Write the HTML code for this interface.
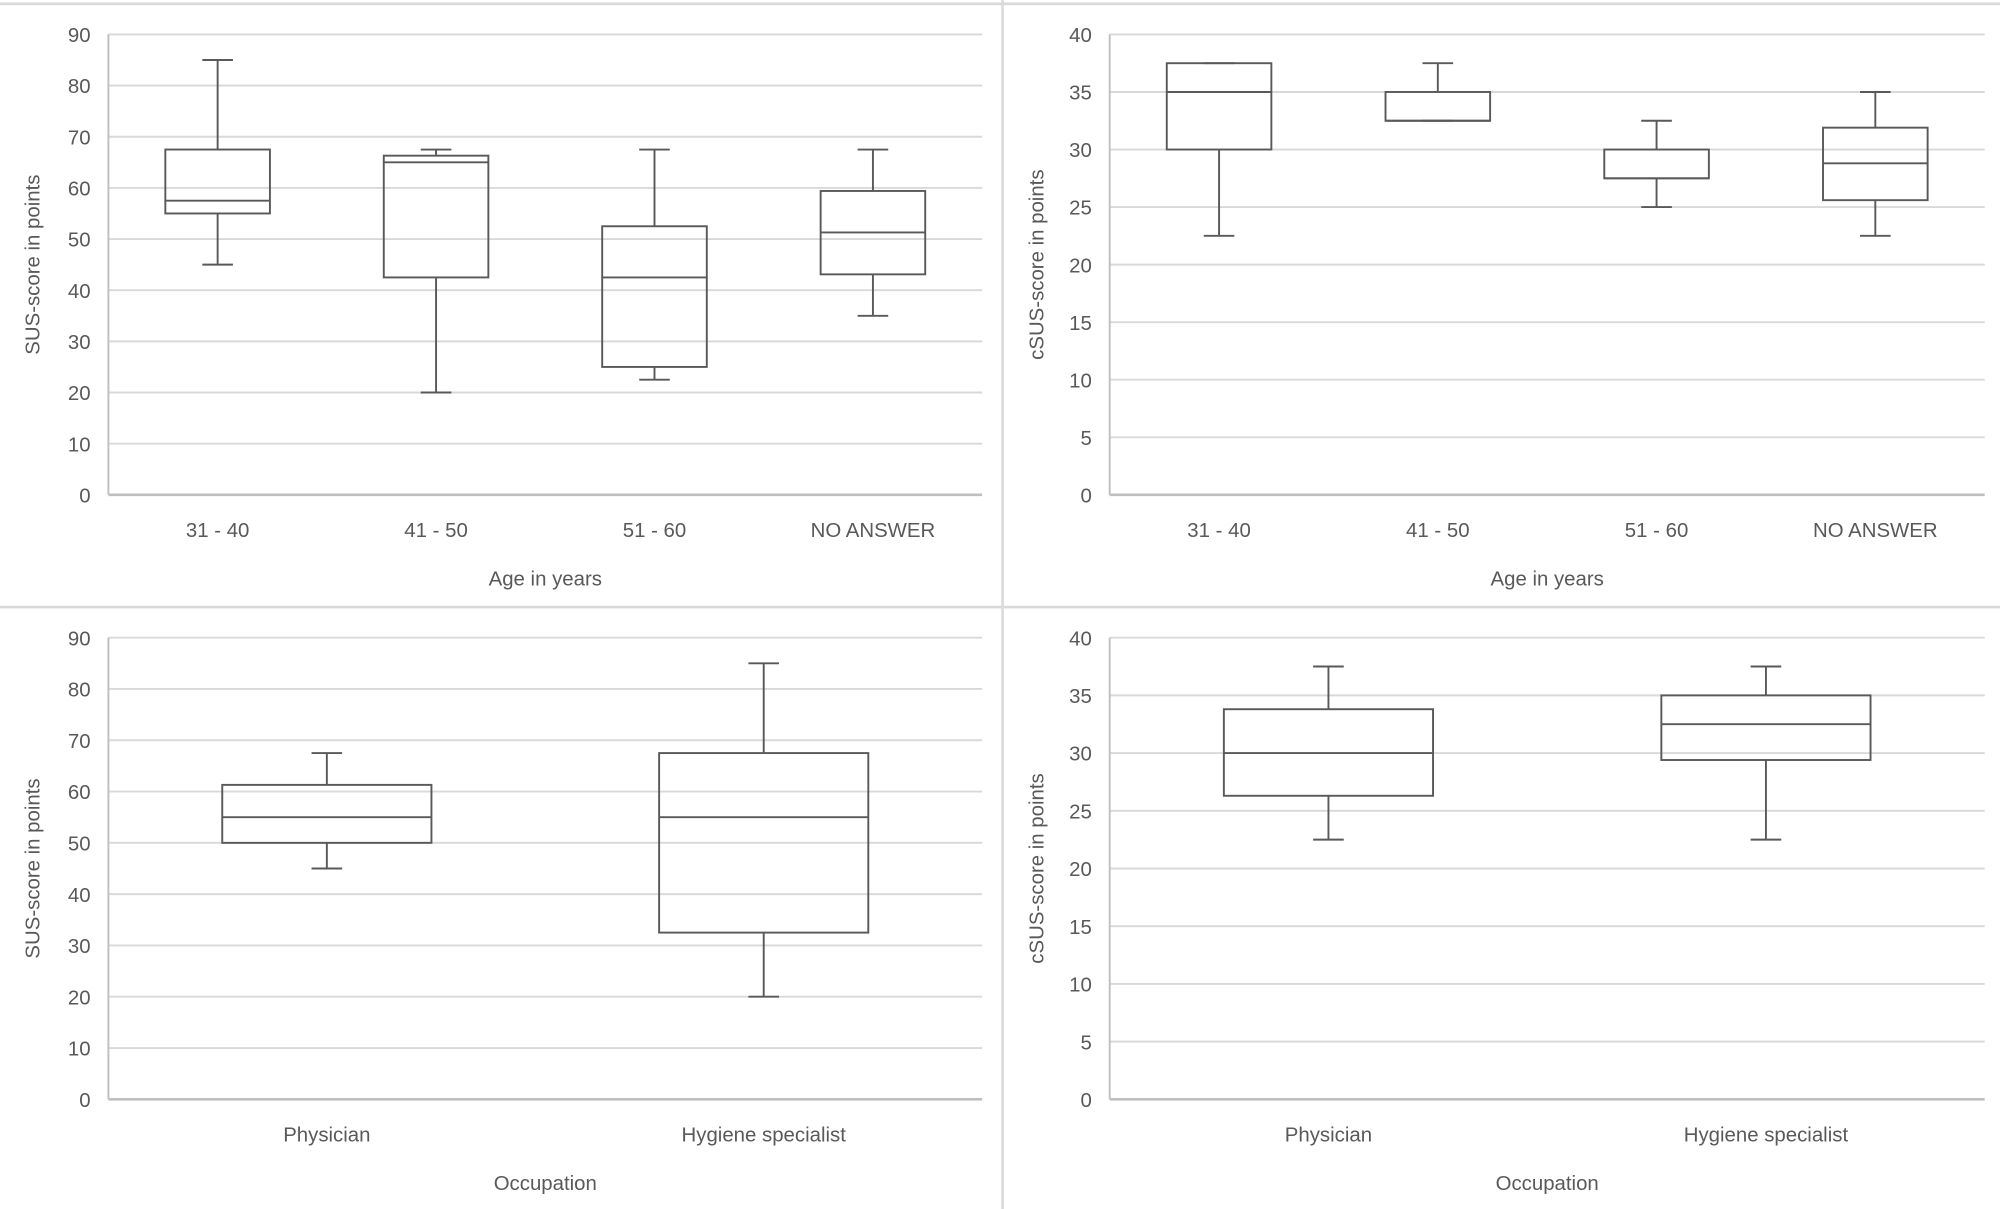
<!DOCTYPE html>
<html><head><meta charset="utf-8"><style>html,body{margin:0;padding:0;background:#fff}svg{display:block}</style></head>
<body>
<svg id="s" width="2000" height="1209" viewBox="0 0 1568 948" preserveAspectRatio="none" xmlns="http://www.w3.org/2000/svg" font-family="Liberation Sans, sans-serif" font-size="16" fill="#595959"></svg>
<script>
var s=document.getElementById('s'),o='';
o+='<line x1="0" y1="3" x2="1568" y2="3" stroke="#d9d9d9" stroke-width="2"/>';
o+='<line x1="0" y1="476" x2="1568" y2="476" stroke="#d9d9d9" stroke-width="2"/>';
o+='<line x1="786" y1="0" x2="786" y2="948" stroke="#d9d9d9" stroke-width="2"/>';
function panel(x0,x1,yTop,yBot,max,step,cats,bw,data,xlab,ylab){
  var k=(yBot-yTop)/max;function Y(v){return yBot-v*k;}
  for(var v=step;v<=max;v+=step){o+='<line x1="'+x0+'" y1="'+Y(v)+'" x2="'+x1+'" y2="'+Y(v)+'" stroke="#d9d9d9" stroke-width="1.5"/>';}
  for(var v=0;v<=max;v+=step){o+='<text x="'+(x0-14)+'" y="'+(Y(v)+6)+'" text-anchor="end">'+v+'</text>';}
  o+='<line x1="'+x0+'" y1="'+yTop+'" x2="'+x0+'" y2="'+yBot+'" stroke="#bfbfbf" stroke-width="1.5"/>';
  o+='<line x1="'+x0+'" y1="'+yBot+'" x2="'+x1+'" y2="'+yBot+'" stroke="#bfbfbf" stroke-width="2"/>';
  var cw=(x1-x0)/cats.length;
  cats.forEach(function(c,i){
    var cx=x0+cw*(i+0.5),d=data[i];
    o+='<text x="'+cx+'" y="'+(yBot+33)+'" text-anchor="middle">'+c+'</text>';
    var st='stroke="#595959" stroke-width="1.5" fill="none"';
    o+='<line x1="'+cx+'" y1="'+Y(d[0])+'" x2="'+cx+'" y2="'+Y(d[1])+'" '+st+'/>';
    o+='<line x1="'+cx+'" y1="'+Y(d[4])+'" x2="'+cx+'" y2="'+Y(d[3])+'" '+st+'/>';
    o+='<line x1="'+(cx-12)+'" y1="'+Y(d[0])+'" x2="'+(cx+12)+'" y2="'+Y(d[0])+'" '+st+'/>';
    o+='<line x1="'+(cx-12)+'" y1="'+Y(d[4])+'" x2="'+(cx+12)+'" y2="'+Y(d[4])+'" '+st+'/>';
    o+='<rect x="'+(cx-bw/2)+'" y="'+Y(d[3])+'" width="'+bw+'" height="'+(Y(d[1])-Y(d[3]))+'" '+st+'/>';
    o+='<line x1="'+(cx-bw/2)+'" y1="'+Y(d[2])+'" x2="'+(cx+bw/2)+'" y2="'+Y(d[2])+'" '+st+'/>';
  });
  o+='<text x="'+((x0+x1)/2)+'" y="'+(yBot+71)+'" text-anchor="middle">'+xlab+'</text>';
  var my=(yTop+yBot)/2;
  o+='<text x="31" y="'+my+'" transform="rotate(-90 '+(x0<500?31:816)+' '+my+')" text-anchor="middle">'+ylab+'</text>';
}
// fix y-label x per panel
function panel2(x0,x1,yTop,yBot,max,step,cats,bw,data,xlab,ylab,lx){
  var before=o.length;panel(x0,x1,yTop,yBot,max,step,cats,bw,data,xlab,ylab);
  o=o.replace('<text x="31" y="'+((yTop+yBot)/2)+'" transform="rotate(-90 '+(x0<500?31:816),'<text x="'+lx+'" y="'+((yTop+yBot)/2)+'" transform="rotate(-90 '+lx);
}
var age=['31 - 40','41 - 50','51 - 60','NO ANSWER'];
panel2(85,770,27,388,90,10,age,82,[[45,55,57.5,67.5,85],[20,42.5,65,66.3,67.5],[22.5,25,42.5,52.5,67.5],[35,43.1,51.3,59.4,67.5]],'Age in years','SUS-score in points',31);
panel2(870,1556,27,388,40,5,age,82,[[22.5,30,35,37.5,37.5],[32.5,32.5,32.5,35,37.5],[25,27.5,27.5,30,32.5],[22.5,25.6,28.8,31.9,35]],'Age in years','cSUS-score in points',818);
var occ=['Physician','Hygiene specialist'];
panel2(85,770,500,862,90,10,occ,164,[[45,50,55,61.3,67.5],[20,32.5,55,67.5,85]],'Occupation','SUS-score in points',31);
panel2(870,1556,500,862,40,5,occ,164,[[22.5,26.3,30,33.8,37.5],[22.5,29.4,32.5,35,37.5]],'Occupation','cSUS-score in points',818);
s.innerHTML=o;
</script>
</body></html>
